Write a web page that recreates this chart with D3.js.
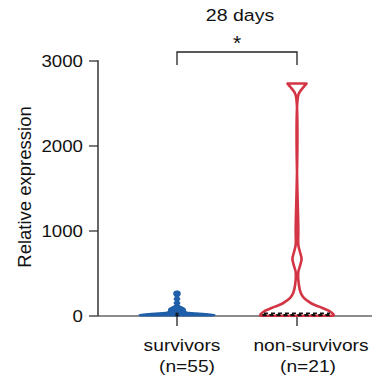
<!DOCTYPE html>
<html>
<head>
<meta charset="utf-8">
<script src="https://cdn.jsdelivr.net/npm/d3@7"></script>
<style>
  body { margin: 0; background: #fff; }
  text { font-family: "Liberation Sans", Arial, Helvetica, sans-serif; fill: #111; }
</style>
</head>
<body>
<div id="chart"></div>
<script>
// groups and labels
const groups = ["survivors", "non-survivors"];
const groupCounts = ["(n=55)", "(n=21)"];
const yTicks = [0, 1000, 2000, 3000];

// violin outlines: value -> relative density (0..1)
const survivorValues = [2, 12, 35, 47, 59, 82, 106, 129, 153, 176, 200, 224, 247, 268, 284, 292];
const survivorDensity = [0.92, 1.0, 0.5, 0.24, 0.22, 0.21, 0.12, 0.04, 0.07, 0.035, 0.07, 0.035, 0.07, 0.08, 0.06, 0.02];
const nonSurvivorValues = [3, 12, 50, 110, 150, 212, 270, 365, 518, 590, 670, 750, 835, 1000, 2600, 2670, 2735];
const nonSurvivorDensity = [0.95, 0.97, 0.88, 0.58, 0.37, 0.18, 0.1, 0.05, 0.035, 0.08, 0.12, 0.08, 0.035, 0.035, 0.035, 0.13, 0.25];

// median and quartiles
const survivorQuartiles = [4, 10, 30];
const nonSurvivorQuartiles = [5, 14, 32];

const colors = ["#1f5fa9", "#d33545"];

const width = 372, height = 388;
const svg = d3.select("#chart").append("svg")
  .attr("width", width).attr("height", height);

const x = d3.scalePoint().domain(groups).range([117, 357]).padding(0.5);
const y = d3.scaleLinear().domain([0, 3000]).range([316, 61]);
const w = d3.scaleLinear().domain([0, 1]).range([0, 38]);

const violins = [
  { name: groups[0], values: survivorValues, dens: survivorDensity, q: survivorQuartiles, color: colors[0], filled: true },
  { name: groups[1], values: nonSurvivorValues, dens: nonSurvivorDensity, q: nonSurvivorQuartiles, color: colors[1], filled: false }
];

// x baseline
svg.append("line")
  .attr("x1", 98).attr("x2", width)
  .attr("y1", y(0)).attr("y2", y(0))
  .attr("stroke", "#666").attr("stroke-width", 1.5);

// category ticks
svg.selectAll(".xtick").data(groups).join("line")
  .attr("x1", d => x(d)).attr("x2", d => x(d))
  .attr("y1", y(0)).attr("y2", y(0) + 10)
  .attr("stroke", "#222").attr("stroke-width", 1.3);

// violins
violins.forEach(v => {
  const pts = v.values.map((val, i) => [val, v.dens[i]]);
  const area = d3.area()
    .y(d => y(d[0]))
    .x0(d => x(v.name) - w(d[1]))
    .x1(d => x(v.name) + w(d[1]))
    .curve(d3.curveCatmullRom.alpha(0.5));
  svg.append("path")
    .datum(pts)
    .attr("d", area)
    .attr("fill", v.filled ? v.color : "#fff")
    .attr("stroke", v.color)
    .attr("stroke-width", v.filled ? 1.5 : 2.6)
    .attr("stroke-linejoin", "round");

  // dashed quartile lines
  const widthAt = val => w(d3.scaleLinear().domain(v.values).range(v.dens).clamp(true)(val));
  v.q.forEach(qv => {
    const half = v.filled ? 1.5 : widthAt(qv) - 2;
    svg.append("line")
      .attr("x1", x(v.name) - half).attr("x2", x(v.name) + half)
      .attr("y1", y(qv)).attr("y2", y(qv))
      .attr("stroke", "#111").attr("stroke-width", 1.4)
      .attr("stroke-dasharray", v.filled ? null : "4,3");
  });
});

// y axis
const yAxis = svg.append("g").attr("transform", "translate(98,0)");
yAxis.append("line")
  .attr("x1", 0).attr("x2", 0).attr("y1", y(3000) - 0.7).attr("y2", y(0))
  .attr("stroke", "#333").attr("stroke-width", 1.5);
yAxis.selectAll(".ytick").data(yTicks).join("line")
  .attr("x1", -9).attr("x2", 0)
  .attr("y1", d => y(d)).attr("y2", d => y(d))
  .attr("stroke", "#333").attr("stroke-width", 1.3);
yAxis.selectAll(".ylab").data(yTicks).join("text")
  .attr("transform", d => `translate(-15,${y(d) + 6}) scale(1.1,1)`)
  .attr("text-anchor", "end")
  .attr("font-size", 17)
  .text(d => d);

svg.append("text")
  .attr("transform", `translate(31,187) rotate(-90)`)
  .attr("text-anchor", "middle")
  .attr("font-size", 18.5)
  .text("Relative expression");

// x labels
const labOffset = [5, 14];
const cntOffset = [10, 11];
groups.forEach((g, i) => {
  svg.append("text")
    .attr("transform", `translate(${x(g) + labOffset[i]},351) scale(1.13,1)`)
    .attr("text-anchor", "middle").attr("font-size", 17)
    .text(g);
  svg.append("text")
    .attr("transform", `translate(${x(g) + cntOffset[i]},372) scale(1.13,1)`)
    .attr("text-anchor", "middle").attr("font-size", 17)
    .text(groupCounts[i]);
});

// significance bracket
const bx1 = x(groups[0]), bx2 = x(groups[1]);
svg.append("path")
  .attr("d", `M${bx1},65V52H${bx2}V65`)
  .attr("fill", "none").attr("stroke", "#222").attr("stroke-width", 1.3);
svg.append("text")
  .attr("x", (bx1 + bx2) / 2).attr("y", 50)
  .attr("text-anchor", "middle").attr("font-size", 21)
  .text("*");
svg.append("text")
  .attr("transform", `translate(${(bx1 + bx2) / 2 + 3},21) scale(1.15,1)`)
  .attr("text-anchor", "middle").attr("font-size", 17)
  .text("28 days");
</script>
</body>
</html>
